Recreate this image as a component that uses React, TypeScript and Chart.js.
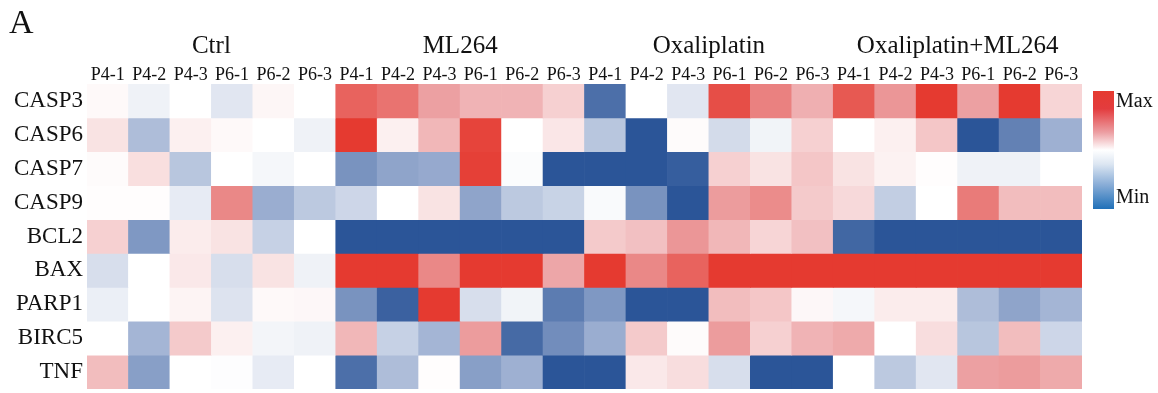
import React, { useEffect, useRef } from "react";
import { Chart, registerables } from "chart.js";

Chart.register(...registerables);

const genes = ["CASP3", "CASP6", "CASP7", "CASP9", "BCL2", "BAX", "PARP1", "BIRC5", "TNF"];
const groups = ["Ctrl", "ML264", "Oxaliplatin", "Oxaliplatin+ML264"];
const samples = ["P4-1", "P4-2", "P4-3", "P6-1", "P6-2", "P6-3"];

// relative expression, -1 = Min (blue), 1 = Max (red); 24 columns = 4 groups x 6 samples
const CASP3 = [0.03, -0.08, 0, -0.15, 0.05, 0, 0.8, 0.72, 0.5, 0.4, 0.4, 0.25, -0.85, 0, -0.15, 0.9, 0.65, 0.42, 0.85, 0.55, 1, 0.5, 1, 0.22];
const CASP6 = [0.15, -0.4, 0.08, 0.03, 0, -0.08, 1, 0.08, 0.38, 0.95, 0, 0.13, -0.35, -1, 0.02, -0.22, -0.07, 0.25, 0, 0.08, 0.3, -1, -0.75, -0.48];
const CASP7 = [0.02, 0.17, -0.35, 0, -0.05, 0, -0.65, -0.55, -0.52, 0.97, -0.02, -1, -1, -1, -0.95, 0.25, 0.15, 0.3, 0.15, 0.07, 0.01, -0.08, -0.08, 0];
const CASP9 = [0.01, 0.01, -0.12, 0.62, -0.5, -0.33, -0.25, 0, 0.15, -0.55, -0.33, -0.27, -0.03, -0.65, -1, 0.52, 0.6, 0.28, 0.2, -0.3, 0, 0.68, 0.35, 0.35];
const BCL2 = [0.25, -0.62, 0.1, 0.15, -0.28, 0, -1, -1, -1, -1, -1, -1, 0.28, 0.33, 0.55, 0.38, 0.22, 0.33, -0.9, -1, -1, -1, -1, -1];
const BAX = [-0.2, 0, 0.12, -0.2, 0.15, -0.08, 1, 1, 0.62, 1, 1, 0.47, 1, 0.62, 0.8, 1, 1, 1, 1, 1, 1, 1, 1, 1];
const PARP1 = [-0.1, 0, 0.06, -0.17, 0.03, 0.04, -0.65, -0.93, 1, -0.2, -0.07, -0.78, -0.62, -1, -1, 0.35, 0.3, 0.04, -0.05, 0.1, 0.1, -0.4, -0.55, -0.45];
const BIRC5 = [0, -0.45, 0.28, 0.08, -0.06, -0.08, 0.38, -0.28, -0.45, 0.52, -0.88, -0.68, -0.5, 0.28, 0.02, 0.52, 0.25, 0.4, 0.45, 0, 0.18, -0.35, 0.35, -0.25];
const TNF = [0.35, -0.58, 0, -0.01, -0.12, 0, -0.85, -0.4, 0.01, -0.58, -0.48, -1, -1, 0.12, 0.18, -0.2, -1, -1, 0, -0.33, -0.15, 0.5, 0.52, 0.45];

const rows = [CASP3, CASP6, CASP7, CASP9, BCL2, BAX, PARP1, BIRC5, TNF];

const SERIF = "'Liberation Serif', 'Times New Roman', serif";

type RGB = [number, number, number];
const WHITE: RGB = [255, 255, 255];
const POS_MID: RGB = [236, 160, 162];
const POS_END: RGB = [229, 58, 48];
const NEG_MID: RGB = [154, 173, 208];
const NEG_END: RGB = [43, 85, 152];

function lerp(a: RGB, b: RGB, t: number): RGB {
  return [a[0] + (b[0] - a[0]) * t, a[1] + (b[1] - a[1]) * t, a[2] + (b[2] - a[2]) * t];
}

function colorFor(v: number): string {
  const t = Math.min(1, Math.abs(v));
  const mid = v >= 0 ? POS_MID : NEG_MID;
  const end = v >= 0 ? POS_END : NEG_END;
  const c = t <= 0.5 ? lerp(WHITE, mid, t / 0.5) : lerp(mid, end, (t - 0.5) / 0.5);
  return `rgb(${Math.round(c[0])},${Math.round(c[1])},${Math.round(c[2])})`;
}

const columnLabels: string[] = [];
groups.forEach(() => samples.forEach((s) => columnLabels.push(s)));

const overlay = {
  id: "overlay",
  afterDraw(chart: any) {
    const ctx = chart.ctx as CanvasRenderingContext2D;
    const x = chart.scales.x;
    ctx.save();
    ctx.fillStyle = "#111";
    // panel letter
    ctx.font = `34px ${SERIF}`;
    ctx.textAlign = "left";
    ctx.textBaseline = "alphabetic";
    ctx.fillText("A", 9, 33);
    // group labels
    ctx.font = `25px ${SERIF}`;
    ctx.textAlign = "center";
    groups.forEach((g, gi) => {
      const first = x.getPixelForValue(gi * samples.length);
      const last = x.getPixelForValue(gi * samples.length + samples.length - 1);
      ctx.fillText(g, (first + last) / 2, 53);
    });
    // colour bar
    const cbL = 1093, cbR = 1114, cbT = 91, cbB = 209;
    const grad = ctx.createLinearGradient(0, cbT, 0, cbB);
    grad.addColorStop(0, "#E53A30");
    grad.addColorStop(0.15, "#E33C3E");
    grad.addColorStop(0.35, "#EC9EA2");
    grad.addColorStop(0.5, "#FFFFFF");
    grad.addColorStop(0.62, "#DCE6F2");
    grad.addColorStop(0.8, "#86ABD6");
    grad.addColorStop(1, "#2070B8");
    ctx.fillStyle = grad;
    ctx.fillRect(cbL, cbT, cbR - cbL, cbB - cbT);
    ctx.fillStyle = "#111";
    ctx.font = `20px ${SERIF}`;
    ctx.textAlign = "left";
    ctx.textBaseline = "middle";
    ctx.fillText("Max", 1116, 102);
    ctx.fillText("Min", 1116, 198);
    ctx.restore();
  },
};

export default function App() {
  const ref = useRef<HTMLCanvasElement | null>(null);
  useEffect(() => {
    if (!ref.current) return;
    const datasets = genes.map((g, i) => ({
      label: g,
      data: rows[i].map(() => 1),
      backgroundColor: rows[i].map(colorFor),
      borderWidth: 0,
      barPercentage: 1,
      categoryPercentage: 1,
    }));
    const chart = new Chart(ref.current, {
      type: "bar",
      data: { labels: columnLabels, datasets },
      options: {
        animation: false,
        responsive: false,
        devicePixelRatio: 1,
        layout: { padding: { left: 0, right: 76, top: 0, bottom: 4 } },
        plugins: { legend: { display: false }, tooltip: { enabled: false } },
        scales: {
          x: {
            position: "top",
            stacked: true,
            grid: { display: false, drawTicks: false },
            border: { display: false },
            ticks: {
              autoSkip: false,
              maxRotation: 0,
              minRotation: 0,
              padding: -2,
              color: "#111",
              font: { family: SERIF, size: 18 },
            },
            afterFit: (s: any) => {
              s.height = 84;
              s.paddingLeft = 0;
              s.paddingRight = 0;
            },
          },
          y: {
            stacked: true,
            min: 0,
            max: 9,
            reverse: true,
            grid: { display: false, drawTicks: false },
            border: { display: false },
            afterBuildTicks: (s: any) => {
              s.ticks = genes.map((_, i) => ({ value: i + 0.5 }));
            },
            ticks: {
              autoSkip: false,
              padding: 4,
              color: "#111",
              font: { family: SERIF, size: 23 },
              callback: (_v: any, idx: number) => genes[idx],
            },
            afterFit: (s: any) => {
              s.width = 87;
              s.paddingTop = 0;
              s.paddingBottom = 0;
            },
          },
        },
      },
      plugins: [overlay],
    });
    return () => chart.destroy();
  }, []);
  return (
    <div style={{ position: "absolute", left: 0, top: 0, width: 1158, height: 393, background: "#fff" }}>
      <canvas ref={ref} width={1158} height={393} style={{ display: "block" }} />
    </div>
  );
}
